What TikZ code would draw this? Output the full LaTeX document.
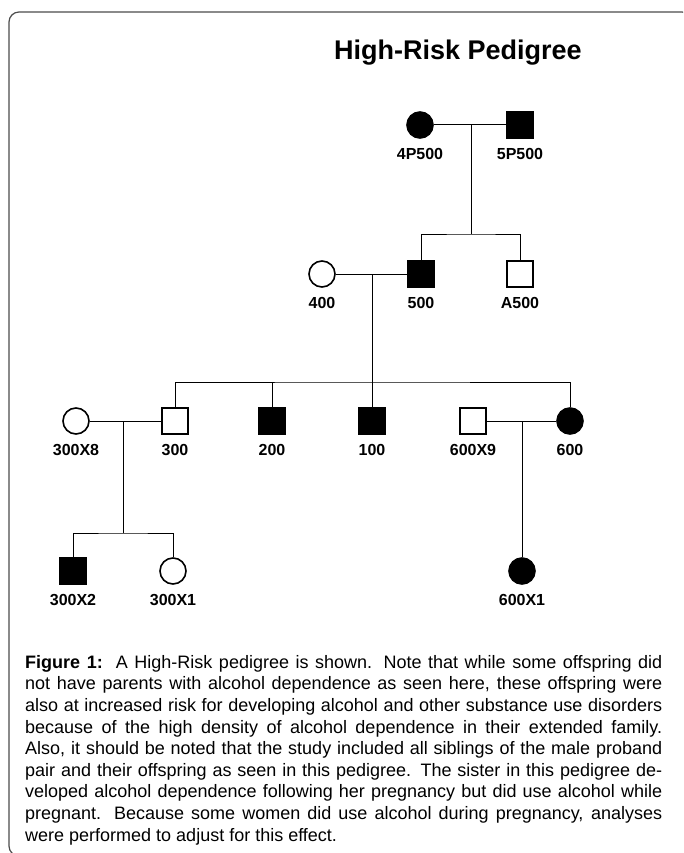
\documentclass[tikz,border=0pt]{standalone}
\usepackage{fontspec}
\setmainfont{Liberation Sans}
\usetikzlibrary{positioning}

\tikzset{
  male/.style={rectangle, draw, line width=1.6pt, minimum size=26pt, inner sep=0pt},
  female/.style={circle, draw, line width=1.6pt, minimum size=26pt, inner sep=0pt},
  aff/.style={fill=black},
  unaff/.style={fill=white},
  idlabel/.style={font=\fontsize{16}{18}\selectfont\bfseries, inner sep=0pt},
  link/.style={line width=1pt},
  headline/.style={font=\fontsize{27}{32}\selectfont\bfseries, inner sep=0pt},
  legend/.style={text width=637pt, align=justify, inner sep=0pt,
    font=\fontsize{18}{21.6}\selectfont},
}

\begin{document}
\begin{tikzpicture}[x=1pt, y=-1pt]
\useasboundingbox (0,0) rectangle (683,853);
\clip (0,0) rectangle (683,853);

% frame
\draw[line width=1.2pt, rounded corners=10pt, black!70] (9,12) rectangle (692,856);

\node[headline, anchor=base] (ttl) at (458,60) {High-Risk Pedigree};

%------------------ GENERATION I ------------------%
\node[female, aff] (p4P500) at (420,125) {};
\node[male, aff]   (p5P500) at (520,125) {};
\node[idlabel, below=9pt of p4P500] (l4P500) {4P500};
\node[idlabel, below=9pt of p5P500] (l5P500) {5P500};

%------------------ GENERATION II ------------------%
\node[female, unaff] (p400)  at (322,274) {};
\node[male, aff]     (p500)  at (421,274) {};
\node[male, unaff]   (pA500) at (520,274) {};
\node[idlabel, below=9pt of p400]  (l400)  {400};
\node[idlabel, below=9pt of p500]  (l500)  {500};
\node[idlabel, below=9pt of pA500] (lA500) {A500};

%------------------ GENERATION III ------------------%
\node[female, unaff] (p300X8) at (76,421) {};
\node[male, unaff]   (p300)   at (175,421) {};
\node[male, aff]     (p200)   at (272,421) {};
\node[male, aff]     (p100)   at (372,421) {};
\node[male, unaff]   (p600X9) at (473,421) {};
\node[female, aff]   (p600)   at (570,421) {};
\node[idlabel, below=9pt of p300X8] (l300X8) {300X8};
\node[idlabel, below=9pt of p300]   (l300)   {300};
\node[idlabel, below=9pt of p200]   (l200)   {200};
\node[idlabel, below=9pt of p100]   (l100)   {100};
\node[idlabel, below=9pt of p600X9] (l600X9) {600X9};
\node[idlabel, below=9pt of p600]   (l600)   {600};

%------------------ GENERATION IV ------------------%
\node[male, aff]     (p300X2) at (73,571) {};
\node[female, unaff] (p300X1) at (173,571) {};
\node[female, aff]   (p600X1) at (522,571) {};
\node[idlabel, below=9pt of p300X2] (l300X2) {300X2};
\node[idlabel, below=9pt of p300X1] (l300X1) {300X1};
\node[idlabel, below=9pt of p600X1] (l600X1) {600X1};

%------------------ LINES ------------------%
% 4P500 x 5P500
\coordinate (m1) at (471,125);
\coordinate (s1) at (471,234);
\draw[link] (p4P500) -- (p5P500);
\draw[link] (m1) -- (s1);
\draw[link] (p500.north) |- (s1) -| (pA500.north);

% 400 x 500
\coordinate (m2) at (372,274);
\coordinate (s2) at (372,382);
\draw[link] (p400) -- (p500);
\draw[link] (m2) -- (p100);
\draw[link] (p300.north) |- (s2) -| (p600.north);
\draw[link] (p200.north) -- (p200.north |- s2);

% 300X8 x 300
\coordinate (m3) at (123,421);
\coordinate (s3) at (123,533);
\draw[link] (p300X8) -- (p300);
\draw[link] (m3) -- (s3);
\draw[link] (p300X2.north) |- (s3) -| (p300X1.north);

% 600X9 x 600
\coordinate (m4) at (522,421);
\draw[link] (p600X9) -- (p600);
\draw[link] (m4) -- (p600X1);

%------------------ CAPTION ------------------%
\node[legend, anchor=north west] (cap) at (25,655) {%
\textbf{Figure 1:}\ \ A High-Risk pedigree is shown.  Note that while some offspring did\linebreak
not have parents with alcohol dependence as seen here, these offspring were\linebreak
also at increased risk for developing alcohol and other substance use disorders\linebreak
because of the high density of alcohol dependence in their extended family.\linebreak
Also, it should be noted that the study included all siblings of the male proband\linebreak
pair and their offspring as seen in this pedigree.  The sister in this pedigree de-\linebreak
veloped alcohol dependence following her pregnancy but did use alcohol while\linebreak
pregnant.  Because some women did use alcohol during pregnancy, analyses\linebreak
were performed to adjust for this effect.};

\end{tikzpicture}
\end{document}
